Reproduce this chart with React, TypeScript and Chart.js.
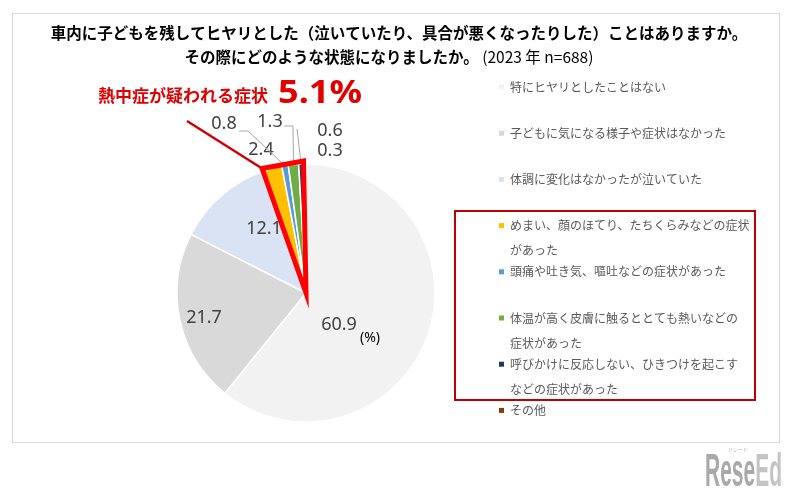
import { useEffect, useRef } from "react";
import { Chart, registerables } from "chart.js";

Chart.register(...registerables);

// ---------- data ----------
const categories: string[] = [
  "特にヒヤリとしたことはない",
  "子どもに気になる様子や症状はなかった",
  "体調に変化はなかったが泣いていた",
  "めまい、顔のほてり、たちくらみなどの症状\nがあった",
  "頭痛や吐き気、嘔吐などの症状があった",
  "体温が高く皮膚に触るととても熱いなどの\n症状があった",
  "呼びかけに反応しない、ひきつけを起こす\nなどの症状があった",
  "その他",
];
const shares: number[] = [60.9, 21.7, 12.1, 2.4, 0.8, 1.3, 0.6, 0.3];
const valueLabels: string[] = ["60.9", "21.7", "12.1", "2.4", "0.8", "1.3", "0.6", "0.3"];
const sliceColors: string[] = [
  "#f2f2f2",
  "#d9d9d9",
  "#dae3f3",
  "#ffc000",
  "#5b9bd5",
  "#70ad47",
  "#203864",
  "#843c0c",
];
const highlightIdx: number[] = [3, 4, 5, 6];
const highlightLabel = "熱中症が疑われる症状";
const highlightTotal = "5.1%";
const titleLine1 =
  "車内に子どもを残してヒヤリとした（泣いていたり、具合が悪くなったりした）ことはありますか。";
const titleLine2Bold = "その際にどのような状態になりましたか。";
const titleLine2Regular = " (2023 年 n=688)";
const unitLabel = "(%)";

// ---------- layout (px, relative to pie centre) ----------
const labelOffsets: [number, number][] = [
  [33, 32],
  [-102, 25],
  [-42, -64],
  [-45, -143],
  [-82, -169],
  [-36, -171],
  [24, -162],
  [24, -142],
];
const leaderPaths: ([number, number][] | null)[] = [
  null,
  null,
  null,
  null,
  [
    [-67, -162],
    [-58, -162],
  ],
  [
    [-22, -167],
    [-13, -167],
  ],
  [[-9, -164]],
  null,
];

const JP = '"Noto Sans CJK JP", "Noto Sans", sans-serif';
const NUM = '"Noto Sans", "DejaVu Sans", sans-serif';

const overlay = {
  id: "overlay",
  beforeDraw(chart: any) {
    const ctx = chart.ctx as CanvasRenderingContext2D;
    ctx.save();
    ctx.fillStyle = "#ffffff";
    ctx.fillRect(0, 0, chart.width, chart.height);
    ctx.strokeStyle = "#d9d9d9";
    ctx.lineWidth = 1;
    ctx.strokeRect(12.5, 13.5, 767, 429);
    ctx.restore();
  },
  afterDatasetsDraw(chart: any) {
    const ctx = chart.ctx as CanvasRenderingContext2D;
    const meta = chart.getDatasetMeta(0);
    const arcs = meta.data as any[];
    const cx = arcs[0].x;
    const cy = arcs[0].y;
    const R = arcs[0].outerRadius;

    ctx.save();
    // value labels
    ctx.fillStyle = "#404040";
    ctx.font = `18px ${NUM}`;
    ctx.textAlign = "center";
    ctx.textBaseline = "middle";
    valueLabels.forEach((t, i) => {
      const [dx, dy] = labelOffsets[i];
      ctx.fillText(t, cx + dx, cy + dy);
    });
    // unit
    ctx.font = `14px ${NUM}`;
    ctx.fillStyle = "#000000";
    ctx.fillText(unitLabel, cx + 64, cy + 45);

    // leader lines
    ctx.strokeStyle = "#a6a6a6";
    ctx.lineWidth = 1;
    leaderPaths.forEach((p, i) => {
      if (!p) return;
      const a = arcs[i];
      const mid = (a.startAngle + a.endAngle) / 2;
      ctx.beginPath();
      p.forEach(([dx, dy], k) => {
        if (k === 0) ctx.moveTo(cx + dx, cy + dy);
        else ctx.lineTo(cx + dx, cy + dy);
      });
      ctx.lineTo(cx + Math.cos(mid) * a.outerRadius, cy + Math.sin(mid) * a.outerRadius);
      ctx.stroke();
    });

    // highlight wedge outline
    const a0 = arcs[highlightIdx[0]].startAngle;
    const a1 = arcs[highlightIdx[highlightIdx.length - 1]].endAngle;
    const Ro = R + 3;
    const p0x = cx + Math.cos(a0) * Ro;
    const p0y = cy + Math.sin(a0) * Ro;
    const p1x = cx + Math.cos(a1) * Ro;
    const p1y = cy + Math.sin(a1) * Ro;
    // connector line
    ctx.strokeStyle = "#d20000";
    ctx.lineWidth = 2.5;
    ctx.beginPath();
    ctx.moveTo(cx - 119, cy - 172);
    ctx.lineTo(p0x, p0y);
    ctx.stroke();

    ctx.strokeStyle = "#ff0000";
    ctx.lineWidth = 5;
    ctx.lineJoin = "miter";
    ctx.beginPath();
    ctx.moveTo(cx, cy);
    ctx.lineTo(p0x, p0y);
    ctx.lineTo(p1x, p1y);
    ctx.closePath();
    ctx.stroke();
    ctx.restore();
  },
  afterDraw(chart: any) {
    const ctx = chart.ctx as CanvasRenderingContext2D;
    ctx.save();
    // title
    ctx.fillStyle = "#000000";
    ctx.textBaseline = "middle";
    ctx.textAlign = "center";
    ctx.font = `bold 15.5px ${JP}`;
    ctx.fillText(titleLine1, 399, 33);
    ctx.textAlign = "left";
    const boldFont = `bold 15.5px ${JP}`;
    const regFont = `15.5px ${JP}`;
    ctx.font = boldFont;
    const wB = ctx.measureText(titleLine2Bold).width;
    ctx.font = regFont;
    const wR = ctx.measureText(titleLine2Regular).width;
    const sx = 389 - (wB + wR) / 2;
    ctx.font = boldFont;
    ctx.fillText(titleLine2Bold, sx, 57);
    ctx.font = regFont;
    ctx.fillText(titleLine2Regular, sx + wB, 57);

    // highlight annotation
    ctx.fillStyle = "#e00000";
    ctx.font = `bold 17px ${JP}`;
    ctx.textAlign = "right";
    ctx.fillText(highlightLabel, 268, 96);
    ctx.textAlign = "left";
    ctx.font = `bold 32px ${NUM}`;
    const wT = ctx.measureText(highlightTotal).width;
    ctx.translate(278, 94);
    ctx.scale(84 / wT, 1);
    ctx.fillText(highlightTotal, 0, 0);
    ctx.setTransform(1, 0, 0, 1, 0, 0);

    // legend
    const lx = 499;
    const tx = 510;
    const y0 = 87;
    const step = 46.2;
    ctx.font = `12px ${JP}`;
    categories.forEach((c, i) => {
      const y = y0 + i * step;
      ctx.fillStyle = sliceColors[i];
      ctx.fillRect(lx, y - 2.5, 5, 5);
      ctx.fillStyle = "#595959";
      c.split("\n").forEach((line, k) => {
        ctx.fillText(line, tx, y + k * 25);
      });
    });
    // legend highlight box
    ctx.strokeStyle = "#c00000";
    ctx.lineWidth = 2;
    ctx.strokeRect(455, 211, 300, 189);

    // watermark
    ctx.textBaseline = "alphabetic";
    ctx.font = `bold 46px "Liberation Sans Narrow", "Liberation Sans", sans-serif`;
    const w1 = ctx.measureText("Rese").width;
    const w2 = ctx.measureText("Ed").width;
    const scale = 77 / (w1 + w2);
    ctx.translate(705, 486);
    ctx.scale(scale, 1);
    ctx.fillStyle = "#a9a9a9";
    ctx.fillText("Rese", 0, 0);
    ctx.fillStyle = "#c4c4c4";
    ctx.fillText("Ed", w1, 0);
    ctx.setTransform(1, 0, 0, 1, 0, 0);
    ctx.fillStyle = "#b0b0b0";
    ctx.font = `5px ${JP}`;
    ctx.fillText("リシード", 728, 451);
    ctx.restore();
  },
};

export default function App() {
  const ref = useRef<HTMLCanvasElement | null>(null);
  useEffect(() => {
    if (!ref.current) return;
    const chart = new Chart(ref.current, {
      type: "pie",
      data: {
        labels: categories,
        datasets: [
          {
            data: shares,
            backgroundColor: sliceColors,
            borderColor: "#ffffff",
            borderWidth: 1.5,
            hoverOffset: 0,
          },
        ],
      },
      options: {
        responsive: false,
        animation: false,
        devicePixelRatio: 1,
        radius: 129,
        layout: { padding: { left: 177, right: 363, top: 164, bottom: 67 } },
        plugins: {
          legend: { display: false },
          title: { display: false },
          tooltip: { enabled: false },
        },
        events: [],
      } as any,
      plugins: [overlay],
    });
    return () => chart.destroy();
  }, []);
  return (
    <div style={{ position: "absolute", left: 0, top: 0, width: 798, height: 489, background: "#fff" }}>
      <canvas ref={ref} width={798} height={489} style={{ display: "block", width: 798, height: 489 }} />
    </div>
  );
}
